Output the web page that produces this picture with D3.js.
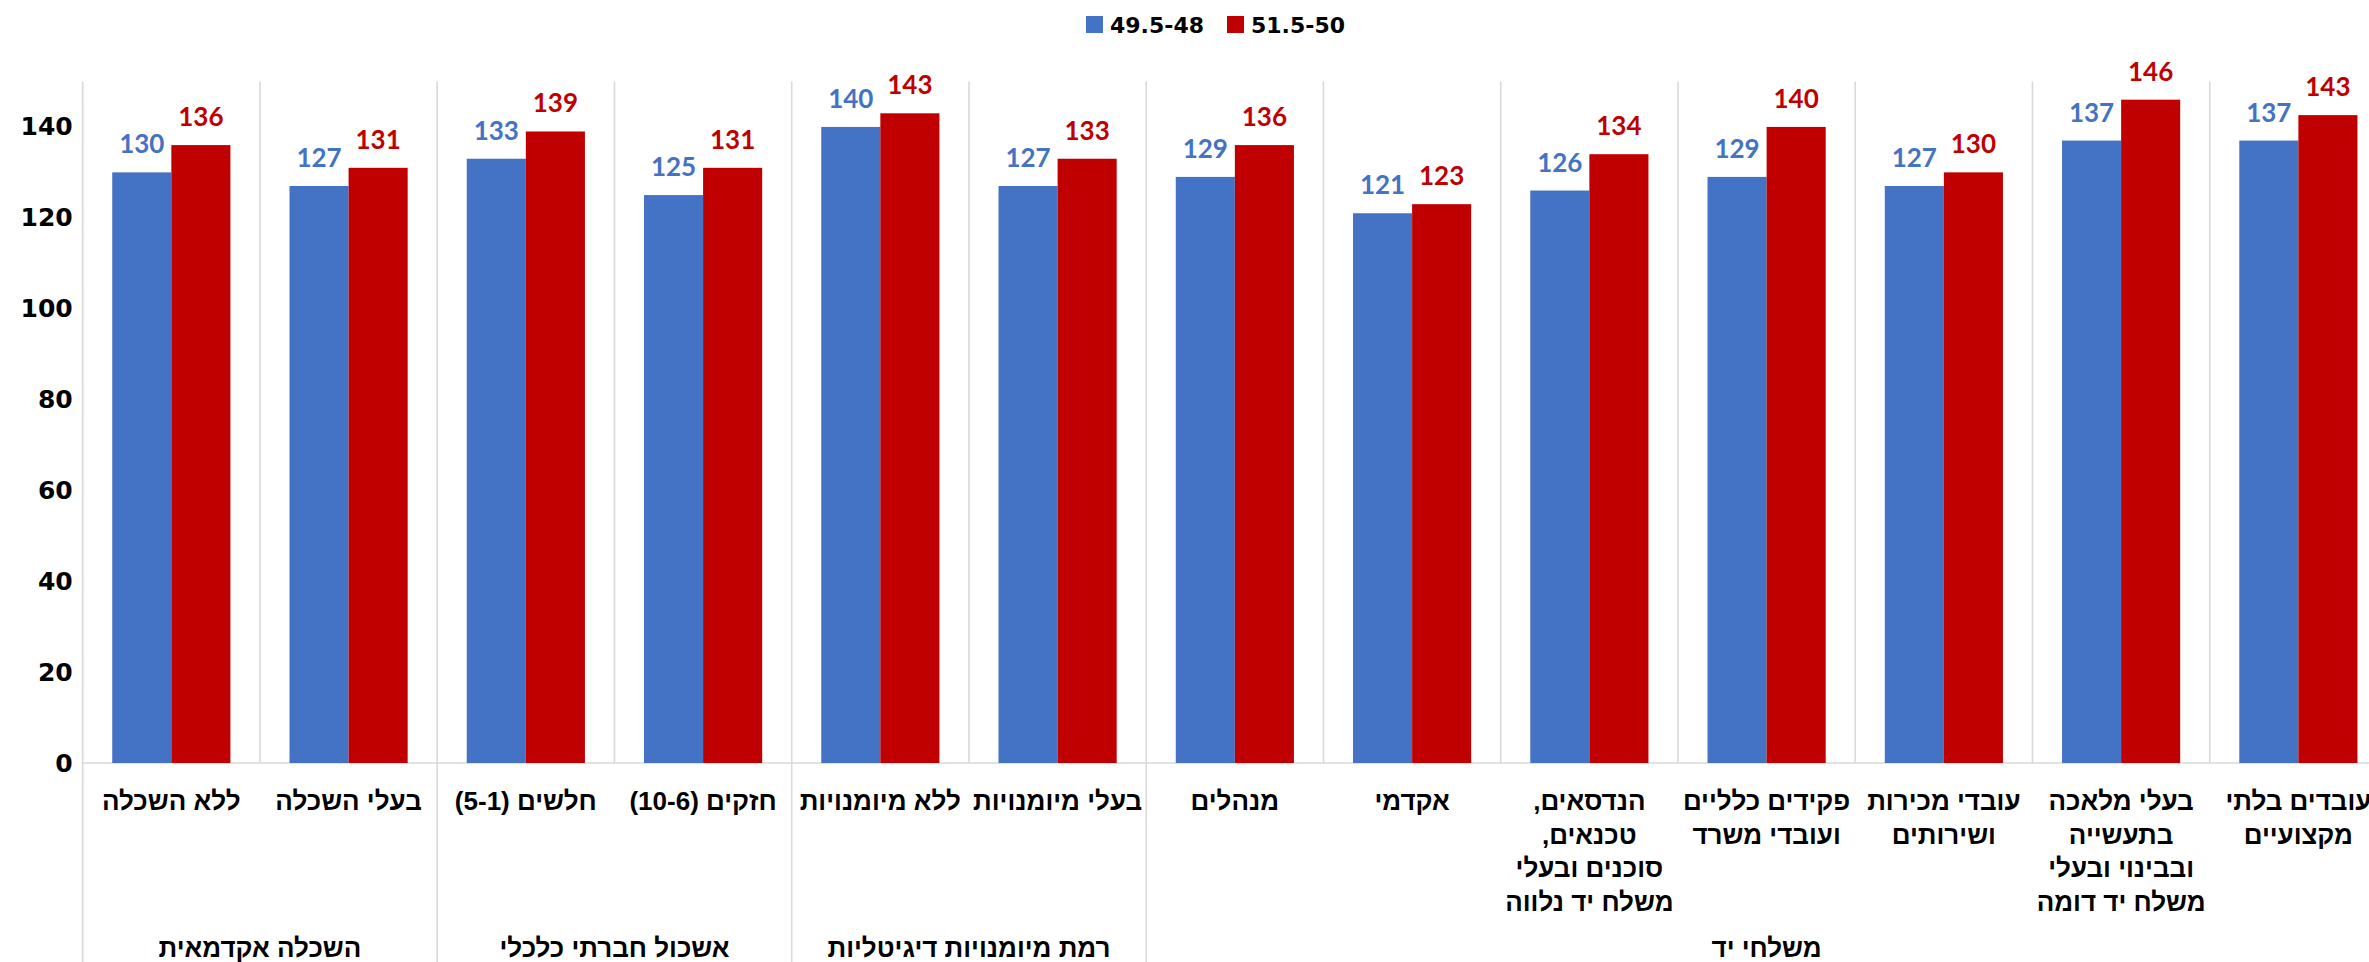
<!DOCTYPE html>
<html><head><meta charset="utf-8">
<script src="https://cdn.jsdelivr.net/npm/d3@7/dist/d3.min.js"></script>
<style>html,body{margin:0;padding:0;background:#fff;overflow:hidden}</style>
</head><body>
<svg id="chart" width="2369" height="962"></svg>
<script>
const categories = [
  "ללא השכלה",
  "בעלי השכלה",
  "חלשים (5-1)",
  "חזקים (10-6)",
  "ללא מיומנויות",
  "בעלי מיומנויות",
  "מנהלים",
  "אקדמי",
  "הנדסאים,\nטכנאים,\nסוכנים ובעלי\nמשלח יד נלווה",
  "פקידים כלליים\nועובדי משרד",
  "עובדי מכירות\nושירותים",
  "בעלי מלאכה\nבתעשייה\nובבינוי ובעלי\nמשלח יד דומה",
  "עובדים בלתי\nמקצועיים"
];
const groups = ["השכלה אקדמאית", "אשכול חברתי כלכלי", "רמת מיומנויות דיגיטליות", "משלחי יד"];
const groupSizes = [2, 2, 2, 7];
const seriesNames = ["49.5-48", "51.5-50"];
const series1 = [130, 127, 133, 125, 140, 127, 129, 121, 126, 129, 127, 137, 137];
const series2 = [136, 131, 139, 131, 143, 133, 136, 123, 134, 140, 130, 146, 142.6];
const yTicks = [0, 20, 40, 60, 80, 100, 120, 140];
const colors = ["#4472C4", "#C00000"];

(function () {
const svg = d3.select("#chart");
const pLeft = 82.7, pRight = 2387, pTop = 81.5, pBase = 763;
const x = d3.scaleBand().domain(d3.range(categories.length)).range([pLeft, pRight]).paddingInner(0).paddingOuter(0);
const y = d3.scaleLinear().domain([0, 150]).range([pBase, pTop]);
const inner = d3.scaleBand().domain([0, 1]).range([0, x.bandwidth()]).paddingInner(0).paddingOuter(0.5);
const grid = "#d9d9d9";

const bounds = d3.range(categories.length + 1).map(i => pLeft + i * x.bandwidth());
const groupEdges = [0];
groupSizes.forEach(s => groupEdges.push(groupEdges[groupEdges.length - 1] + s));
svg.append("g").selectAll("line").data(bounds).join("line")
  .attr("x1", d => d).attr("x2", d => d)
  .attr("y1", pTop).attr("y2", (d, i) => groupEdges.includes(i) ? 962 : pBase)
  .attr("stroke", grid).attr("stroke-width", 1.6);
svg.append("line").attr("x1", pLeft).attr("x2", pRight).attr("y1", pBase).attr("y2", pBase)
  .attr("stroke", grid).attr("stroke-width", 1.6);

const yAxis = d3.axisLeft(y).tickValues(yTicks).tickSize(0).tickPadding(10);
const ya = svg.append("g").attr("transform", `translate(${pLeft},0)`).call(yAxis);
ya.select(".domain").remove();
ya.selectAll("text").attr("font-family", "DejaVu Sans").attr("font-weight", "bold")
  .attr("font-size", 25).attr("fill", "#000");

[series1, series2].forEach((s, si) => {
  const g = svg.append("g");
  g.selectAll("rect").data(s).join("rect")
    .attr("x", (d, i) => x(i) + inner(si))
    .attr("width", inner.bandwidth())
    .attr("y", d => y(d))
    .attr("height", d => pBase - y(d))
    .attr("fill", colors[si]);
  g.selectAll("text").data(s).join("text")
    .attr("x", (d, i) => x(i) + inner(si) + inner.bandwidth() / 2)
    .attr("y", d => y(d) - 19)
    .attr("text-anchor", "middle")
    .attr("font-family", "Lato").attr("font-weight", "bold").attr("font-size", 26)
    .attr("fill", colors[si])
    .text(d => Math.round(d));
});

const catG = svg.append("g");
categories.forEach((c, i) => {
  const lines = c.split("\n");
  const cx = x(i) + x.bandwidth() / 2;
  const t = catG.append("text")
    .attr("x", cx).attr("y", 810)
    .attr("text-anchor", "middle").attr("direction", "rtl")
    .attr("font-family", "Liberation Sans").attr("font-weight", "bold").attr("font-size", 26)
    .attr("fill", "#000");
  lines.forEach((l, j) => {
    t.append("tspan").attr("x", cx).attr("dy", j === 0 ? 0 : 33.7).text(l);
  });
});

groups.forEach((g, gi) => {
  const a = pLeft + groupEdges[gi] * x.bandwidth();
  const b = pLeft + groupEdges[gi + 1] * x.bandwidth();
  svg.append("text").attr("x", (a + b) / 2).attr("y", 957)
    .attr("text-anchor", "middle").attr("direction", "rtl")
    .attr("font-family", "Liberation Sans").attr("font-weight", "bold").attr("font-size", 26)
    .attr("fill", "#000").text(g);
});

const leg = svg.append("g");
const legX = [1086, 1227];
seriesNames.forEach((n, i) => {
  leg.append("rect").attr("x", legX[i]).attr("y", 16).attr("width", 17).attr("height", 17).attr("fill", colors[i]);
  leg.append("text").attr("x", legX[i] + 24).attr("y", 33)
    .attr("font-family", "DejaVu Sans").attr("font-weight", "bold").attr("font-size", 22)
    .attr("fill", "#000").text(n);
});
})();
</script>
</body></html>
